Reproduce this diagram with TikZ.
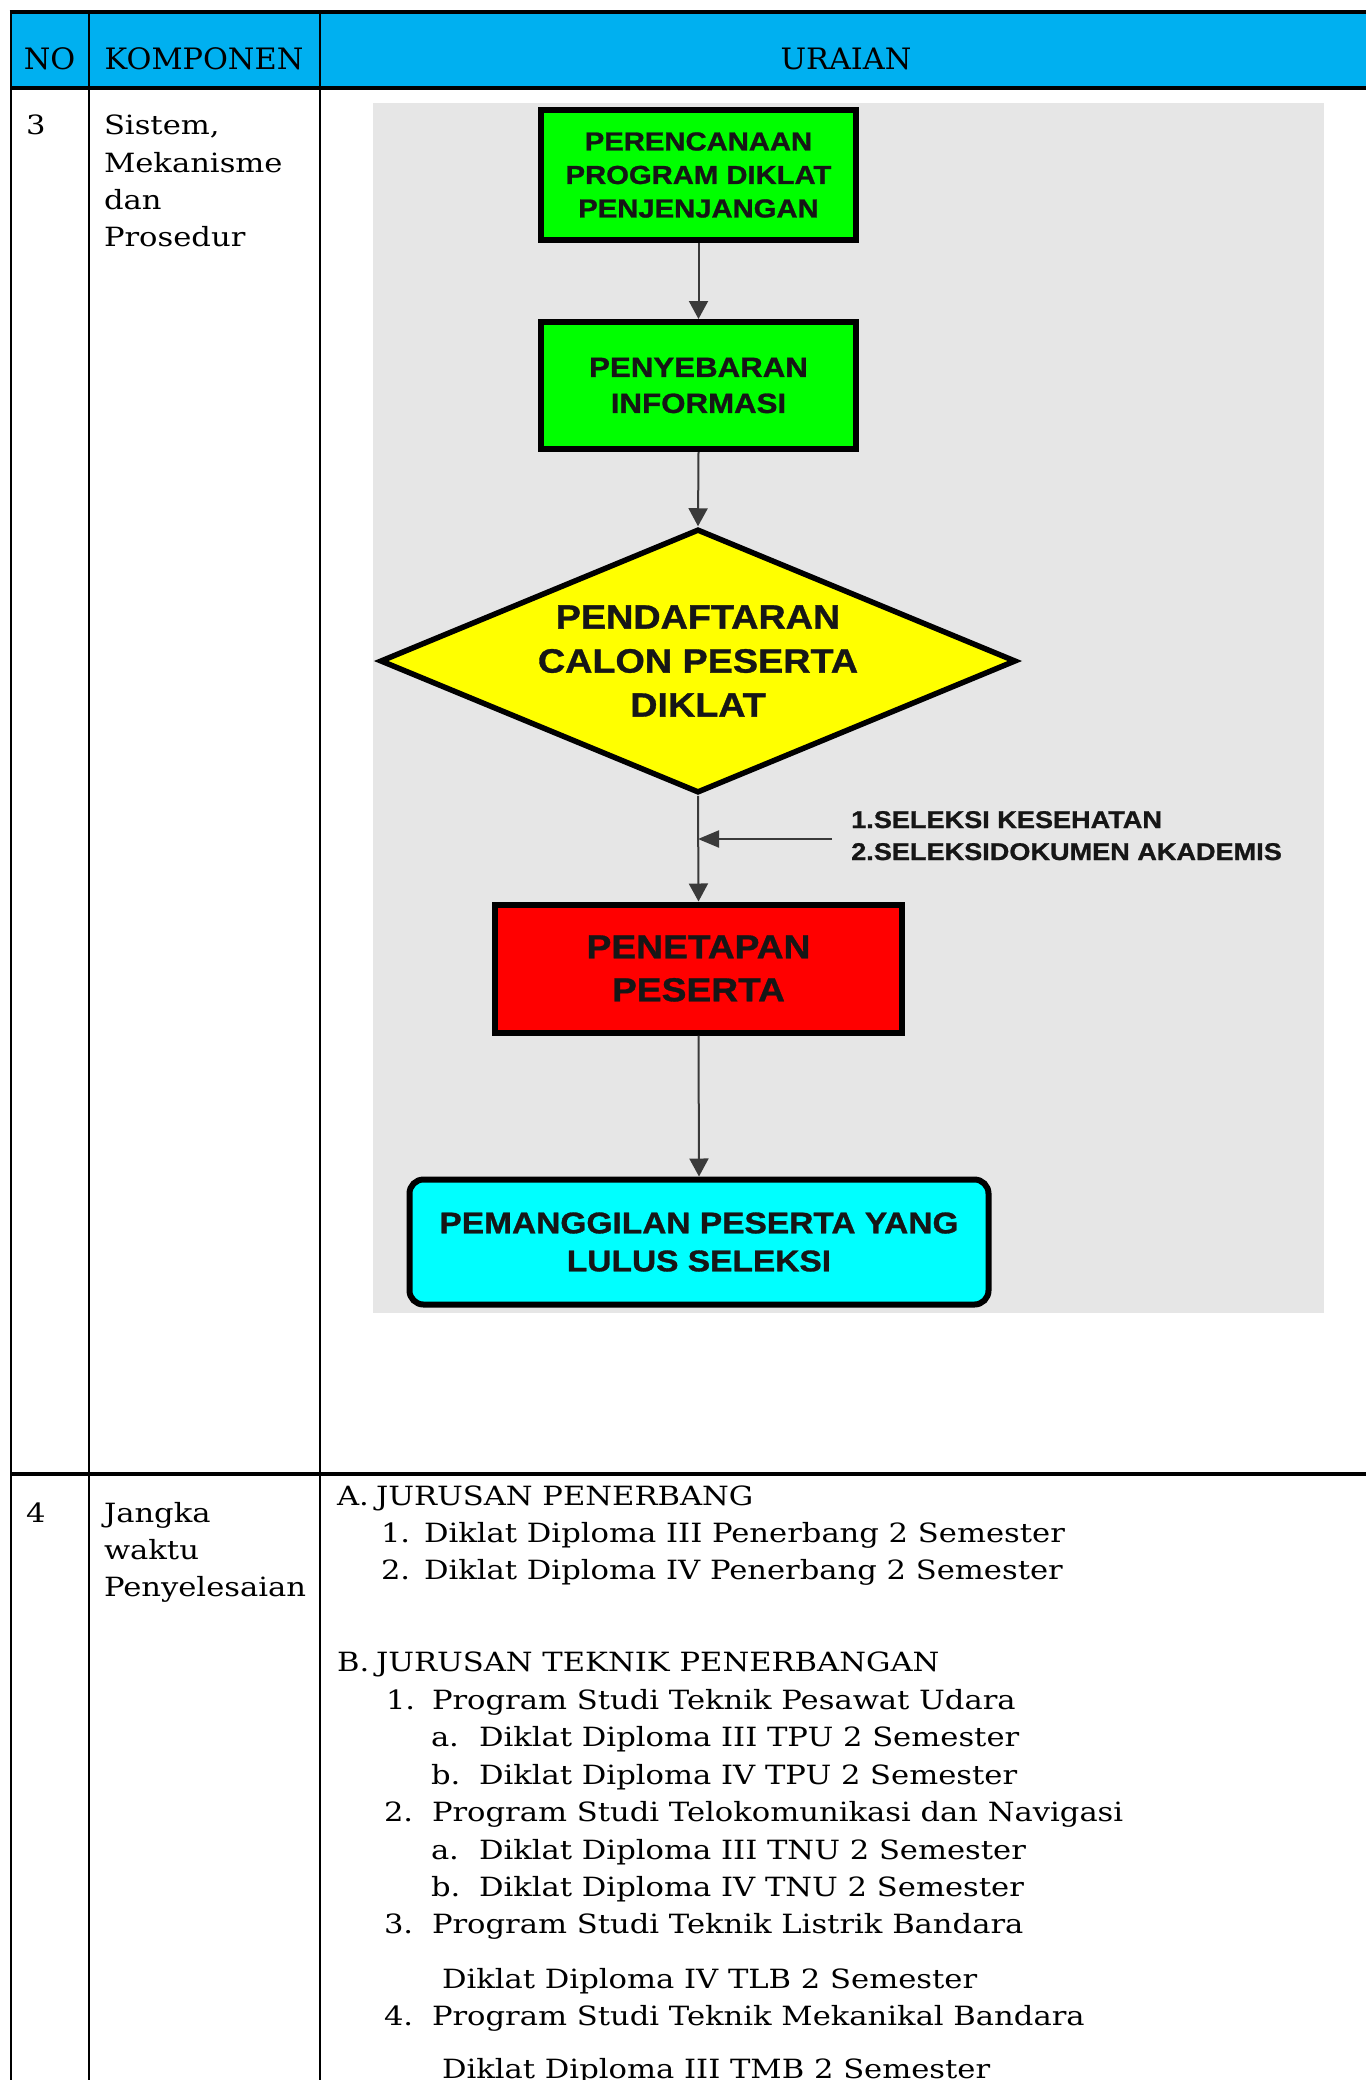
\documentclass[tikz,border=0pt]{standalone}
\usepackage{fontspec}
\usetikzlibrary{arrows.meta,shapes.geometric}
\setmainfont{DejaVu Serif}
\newfontfamily\bodyff{DejaVu Serif}[FakeStretch=1.155]
\newfontfamily\hdrff{DejaVu Serif}[FakeStretch=1.03]
\newfontfamily\flowff{Liberation Sans}[FakeStretch=1.12,FakeBold=1]
\definecolor{hdrblue}{HTML}{00B0F0}
\definecolor{bggray}{HTML}{E6E6E6}
\definecolor{fgreen}{HTML}{00FF00}
\definecolor{fyellow}{HTML}{FFFF00}
\definecolor{fred}{HTML}{FF0000}
\definecolor{fcyan}{HTML}{00FFFF}
\definecolor{txtdark}{HTML}{161616}
\definecolor{connc}{HTML}{3A3A3A}
\newcommand\bodyfont{\bodyff\fontsize{26.5}{37.5}\selectfont}
\newcommand\hdrfont{\hdrff\fontsize{29.5}{35}\selectfont}
\tikzset{
  cell/.style={anchor=base west, inner sep=0pt, outer sep=0pt, font=\bodyfont, text=black},
  hdrtxt/.style={anchor=base, inner sep=0pt, font=\hdrfont, text=black},
  tline/.style={draw=black, line width=2.5pt},
  tlinethick/.style={draw=black, line width=3.2pt},
  flowbox/.style={draw=black, line width=6pt, inner sep=0pt, outer sep=3pt, align=center, text=txtdark},
  sidetxt/.style={anchor=base west, inner sep=0pt, text=txtdark, font={\flowff\bfseries\fontsize{24.2}{32}\selectfont}},
  conn/.style={draw=connc, line width=2pt, -{Triangle[length=18pt,width=19pt]}},
  sideconn/.style={draw=connc, line width=2pt, -{Triangle[length=21pt,width=17pt]}},
}
\begin{document}
\begin{tikzpicture}[x=1pt,y=-1pt]
\useasboundingbox (0,0) rectangle (1366,2080);
\clip (0,0) rectangle (1366,2080);
\fill[white] (0,0) rectangle (1366,2080);
% header band and gray panel
\fill[hdrblue] (11,12) rectangle (1366,88);
\fill[bggray] (373,103) rectangle (1324,1313);
% table rules
\draw[tlinethick] (9.5,12) -- (1366,12);
\draw[tlinethick] (11,88) -- (1366,88);
\draw[tlinethick] (11,1474) -- (1366,1474);
\draw[tline] (11,10.5) -- (11,2080);
\draw[tline] (89,12) -- (89,2080);
\draw[tline] (320,12) -- (320,2080);
% header
\node[hdrtxt] (hno) at (49.5,69) {NO};
\node[hdrtxt] (hkomp) at (204,69) {KOMPONEN};
\node[hdrtxt] (hur) at (846,69) {URAIAN};
% row 3
\node[cell] (n3) at (26,134) {3};
\node[cell] (k3a) at (104,134) {Sistem,};
\node[cell] (k3b) at (104,172) {Mekanisme};
\node[cell] (k3c) at (104,209) {dan};
\node[cell] (k3d) at (104,246) {Prosedur};
% flowchart
\node[flowbox, fill=fgreen, minimum width=315pt, minimum height=130pt,
      font={\flowff\bfseries\fontsize{26.1}{33.5}\selectfont}] (plan) at (698.5,175)
      {PERENCANAAN\\PROGRAM DIKLAT\\PENJENJANGAN};
\node[flowbox, fill=fgreen, minimum width=315pt, minimum height=127pt,
      font={\flowff\bfseries\fontsize{27.9}{36}\selectfont}] (info) at (698.5,385.5)
      {PENYEBARAN\\INFORMASI};
\node[flowbox, diamond, shape aspect=2.4, fill=fyellow, line width=5.5pt, outer sep=2.75pt,
      minimum width=636pt, minimum height=264pt,
      font={\flowff\bfseries\fontsize{33.7}{44}\selectfont}] (daftar) at (698,661)
      {PENDAFTARAN\\CALON PESERTA\\DIKLAT};
\node[flowbox, fill=fred, minimum width=407pt, minimum height=128pt,
      font={\flowff\bfseries\fontsize{33.2}{43}\selectfont}] (pen) at (698.5,968.5)
      {PENETAPAN\\PESERTA};
\node[flowbox, fill=fcyan, rounded corners=14pt, minimum width=579pt, minimum height=125pt,
      font={\flowff\bfseries\fontsize{29.9}{38}\selectfont}] (call) at (699,1242)
      {PEMANGGILAN PESERTA YANG\\LULUS SELEKSI};
\node[sidetxt] (sel1) at (851,828) {1.SELEKSI KESEHATAN};
\node[sidetxt] (sel2) at (851,860) {2.SELEKSIDOKUMEN AKADEMIS};
\coordinate (selstart) at (832,839);
\draw[conn] (plan.south) -- (info.north);
\draw[conn] (info.south) -- (daftar.north);
\draw[conn] (daftar.south) -- (pen.north);
\draw[conn] (pen.south) -- (call.north);
\draw[sideconn] (selstart) -- (daftar.south |- selstart);
% row 4
\node[cell] (n4) at (26,1522) {4};
\node[cell] (k4a) at (104,1522) {Jangka};
\node[cell] (k4b) at (104,1559) {waktu};
\node[cell] (k4c) at (104,1596) {Penyelesaian};
\node[cell] (lA) at (337,1505) {A.};
\node[cell] (tA) at (376,1505) {JURUSAN PENERBANG};
\node[cell] (lA1) at (381,1542) {1.};
\node[cell] (tA1) at (424,1542) {Diklat Diploma III Penerbang 2 Semester};
\node[cell] (lA2) at (381,1579) {2.};
\node[cell] (tA2) at (424,1579) {Diklat Diploma IV Penerbang 2 Semester};
\node[cell] (lB) at (337,1671) {B.};
\node[cell] (tB) at (376,1671) {JURUSAN TEKNIK PENERBANGAN};
\node[cell] (lB1) at (386,1709) {1.};
\node[cell] (tB1) at (432,1709) {Program Studi Teknik Pesawat Udara};
\node[cell] (lB1a) at (431,1746) {a.};
\node[cell] (tB1a) at (479,1746) {Diklat Diploma III TPU 2 Semester};
\node[cell] (lB1b) at (431,1784) {b.};
\node[cell] (tB1b) at (479,1784) {Diklat Diploma IV TPU 2 Semester};
\node[cell] (lB2) at (384,1821.5) {2.};
\node[cell] (tB2) at (432,1821.5) {Program Studi Telokomunikasi dan Navigasi};
\node[cell] (lB2a) at (431,1859) {a.};
\node[cell] (tB2a) at (479,1859) {Diklat Diploma III TNU 2 Semester};
\node[cell] (lB2b) at (431,1896) {b.};
\node[cell] (tB2b) at (479,1896) {Diklat Diploma IV TNU 2 Semester};
\node[cell] (lB3) at (384,1933) {3.};
\node[cell] (tB3) at (432,1933) {Program Studi Teknik Listrik Bandara};
\node[cell] (tB3x) at (442,1988) {Diklat Diploma IV TLB 2 Semester};
\node[cell] (lB4) at (384,2025) {4.};
\node[cell] (tB4) at (432,2025) {Program Studi Teknik Mekanikal Bandara};
\node[cell] (tB4x) at (442,2078) {Diklat Diploma III TMB 2 Semester};
\end{tikzpicture}
\end{document}
